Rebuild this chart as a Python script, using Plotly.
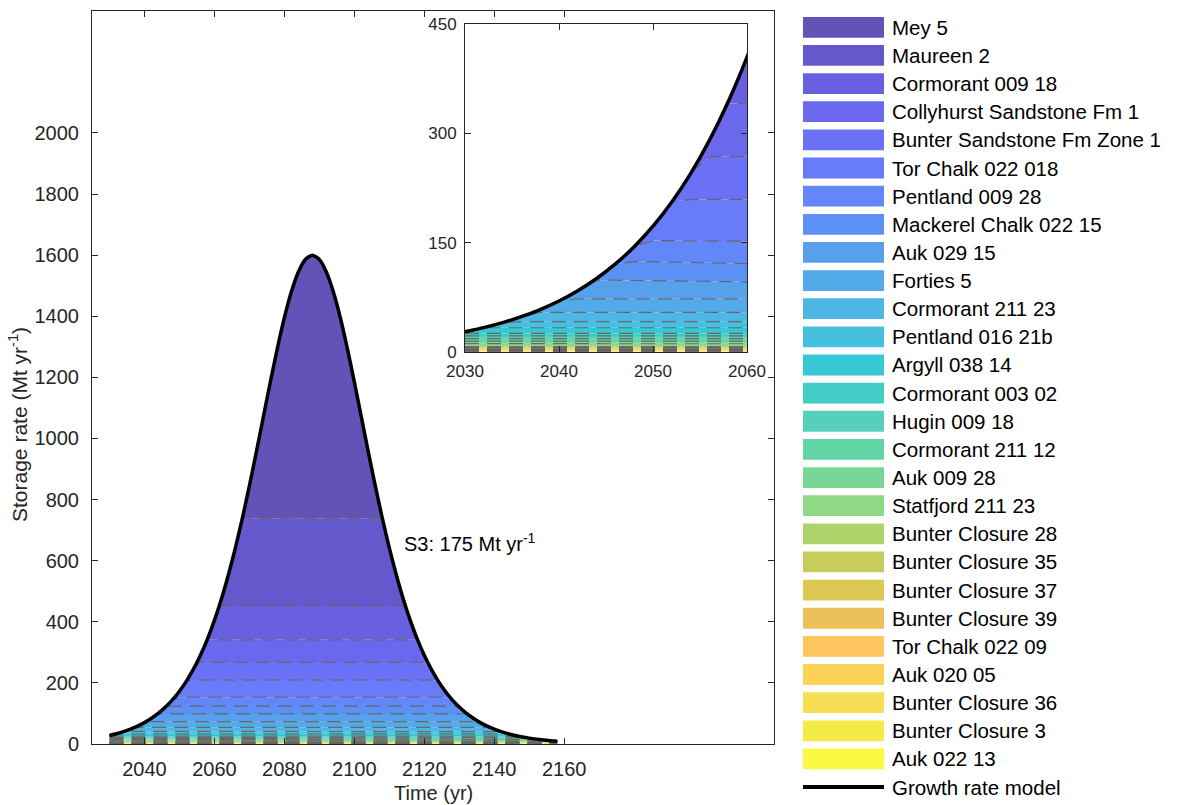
import numpy as np
import plotly.graph_objects as go

W, H = 1177, 805
FONT = "Liberation Sans, Arial, Helvetica, sans-serif"
TXT = "#262626"

# ---------------- data ----------------
years = list(range(2030, 2160, 2))
rate = [27.8, 33.5, 40.3, 48.5, 58.3, 70.0, 84.1, 100.8, 120.8, 144.5,
        172.6, 205.8, 244.8, 290.4, 343.4, 404.6, 474.5, 554, 642, 739,
        845, 956, 1071, 1185, 1295, 1395, 1480, 1545, 1586, 1600,
        1586, 1545, 1480, 1395, 1295, 1185, 1071, 956, 845, 739,
        642, 554, 474.5, 404.6, 343.4, 290.4, 244.8, 205.8, 172.6, 144.5,
        120.8, 100.8, 84.1, 70.0, 58.3, 48.5, 40.3, 33.5, 27.8,
        23.1, 19.2, 15.9, 13.2, 11.0, 9.1]

names = ["Mey 5", "Maureen 2", "Cormorant 009 18", "Collyhurst Sandstone Fm 1",
         "Bunter Sandstone Fm Zone 1", "Tor Chalk 022 018", "Pentland 009 28",
         "Mackerel Chalk 022 15", "Auk 029 15", "Forties 5", "Cormorant 211 23",
         "Pentland 016 21b", "Argyll 038 14", "Cormorant 003 02", "Hugin 009 18",
         "Cormorant 211 12", "Auk 009 28", "Statfjord 211 23", "Bunter Closure 28",
         "Bunter Closure 35", "Bunter Closure 37", "Bunter Closure 39",
         "Tor Chalk 022 09", "Auk 020 05", "Bunter Closure 36", "Bunter Closure 3",
         "Auk 022 13"]

# storage-rate capacity of each reservoir (Mt/yr), same order as names
capacity = [861, 287, 111, 73, 58.5, 56.5, 29, 25.5, 25.5, 18.5, 12.9,
            8.3, 7.7, 3.6, 3.7, 3.3, 3.6, 4.1, 1.1, 1.0, 0.9, 0.9,
            0.8, 0.7, 0.7, 0.6, 0.6]

colors = ["#6352B8", "#6458CC", "#6860E0", "#6A69EE", "#6A71F6", "#687BF9",
          "#6386FA", "#5B91F4", "#57A0EC", "#52ABE8", "#4CB6E4", "#45C0DE",
          "#36C8D6", "#42CCC6", "#55D0BA", "#62D5A6", "#78D796", "#8FD884",
          "#ACD46B", "#C6CD5C", "#DCC855", "#EDC15A", "#FDC65E", "#FCD257",
          "#F6DF55", "#F4EA48", "#F9FA41"]

model_name = "Growth rate model"
x_ticks_main = [2040, 2060, 2080, 2100, 2120, 2140, 2160]
y_ticks_main = [0, 200, 400, 600, 800, 1000, 1200, 1400, 1600, 1800, 2000]
x_ticks_inset = [2030, 2040, 2050, 2060]
y_ticks_inset = [0, 150, 300, 450]
label_text = "S3: 175 Mt yr<sup>-1</sup>"
label_x, label_y = 2113.5, 658


def px(x):
    return x / W


def py(y):
    return 1 - y / H


fig = go.Figure()
r = np.array(rate, dtype=float)
caps_bu = np.array(capacity[::-1], dtype=float)
tops = np.cumsum(caps_bu)
tops[-1] = np.inf
colors_bu = colors[::-1]

for xa, ya in (("x", "y"), ("x2", "y2")):
    for i in range(len(caps_bu)):
        yv = np.minimum(r, tops[i])
        fig.add_trace(go.Scatter(
            x=years, y=yv, mode="lines",
            fill="tozeroy" if i == 0 else "tonexty",
            fillcolor=colors_bu[i],
            line=dict(color="rgba(100,100,100,0.95)", width=1.2, dash="14px,8px"),
            xaxis=xa, yaxis=ya, showlegend=False, hoverinfo="skip"))
    fig.add_trace(go.Scatter(
        x=years, y=r, mode="lines",
        line=dict(color="black", width=3.5, shape="spline", smoothing=0.6),
        xaxis=xa, yaxis=ya, showlegend=False, hoverinfo="skip"))

axis_common = dict(showline=True, linecolor=TXT, linewidth=1, mirror="ticks",
                   ticks="inside", ticklen=6, tickcolor=TXT, tickwidth=1,
                   showgrid=False, zeroline=False, automargin=False)

fig.update_layout(
    width=W, height=H, autosize=False,
    margin=dict(l=0, r=0, t=0, b=0),
    paper_bgcolor="white", plot_bgcolor="white",
    font=dict(family=FONT, color=TXT),
    xaxis=dict(domain=[px(92), px(774)], anchor="y", range=[2025, 2220],
               tickvals=x_ticks_main, ticklabelstandoff=7,
               tickfont=dict(family=FONT, size=20, color=TXT), **axis_common),
    yaxis=dict(domain=[py(744), py(10.7)], anchor="x", range=[0, 2400],
               tickvals=y_ticks_main, ticklabelstandoff=8,
               tickfont=dict(family=FONT, size=20, color=TXT), **axis_common),
    xaxis2=dict(domain=[px(465), px(747)], anchor="y2", range=[2030, 2060],
                tickvals=x_ticks_inset, ticklabelstandoff=4,
                tickfont=dict(family=FONT, size=17, color=TXT), **axis_common),
    yaxis2=dict(domain=[py(352), py(24)], anchor="x2", range=[0, 450],
                tickvals=y_ticks_inset, ticklabelstandoff=4,
                tickfont=dict(family=FONT, size=17, color=TXT), **axis_common),
)

shapes = []
annotations = []
# manual legend
for k, (nm, col) in enumerate(zip(names, colors)):
    yc = 27.3 + 28.14 * k
    shapes.append(dict(type="rect", xref="paper", yref="paper",
                       x0=px(803), x1=px(884), y0=py(yc + 10.4), y1=py(yc - 10.4),
                       fillcolor=col, line=dict(width=0)))
    annotations.append(dict(xref="paper", yref="paper", x=px(890), y=py(yc),
                            xanchor="left", yanchor="middle", showarrow=False,
                            text=nm, font=dict(family=FONT, size=20.5, color="black")))
yc = 27.3 + 28.14 * len(names)
shapes.append(dict(type="line", xref="paper", yref="paper",
                   x0=px(803), x1=px(884), y0=py(yc), y1=py(yc),
                   line=dict(color="black", width=4)))
annotations.append(dict(xref="paper", yref="paper", x=px(890), y=py(yc),
                        xanchor="left", yanchor="middle", showarrow=False,
                        text=model_name, font=dict(family=FONT, size=20.5, color="black")))

# axis titles and label
annotations.append(dict(xref="paper", yref="paper", x=px(433), y=py(793),
                        xanchor="center", yanchor="middle", showarrow=False,
                        text="Time (yr)", font=dict(family=FONT, size=20, color=TXT)))
annotations.append(dict(xref="paper", yref="paper", x=px(18), y=py(425),
                        xanchor="center", yanchor="middle", showarrow=False, textangle=-90,
                        text="Storage rate (Mt yr<sup>-1</sup>)",
                        font=dict(family=FONT, size=21, color=TXT)))
annotations.append(dict(xref="x", yref="y", x=label_x, y=label_y,
                        xanchor="left", yanchor="middle", showarrow=False,
                        text=label_text, font=dict(family=FONT, size=20, color="black")))

fig.update_layout(shapes=shapes, annotations=annotations)
fig.write_html("out.html")
